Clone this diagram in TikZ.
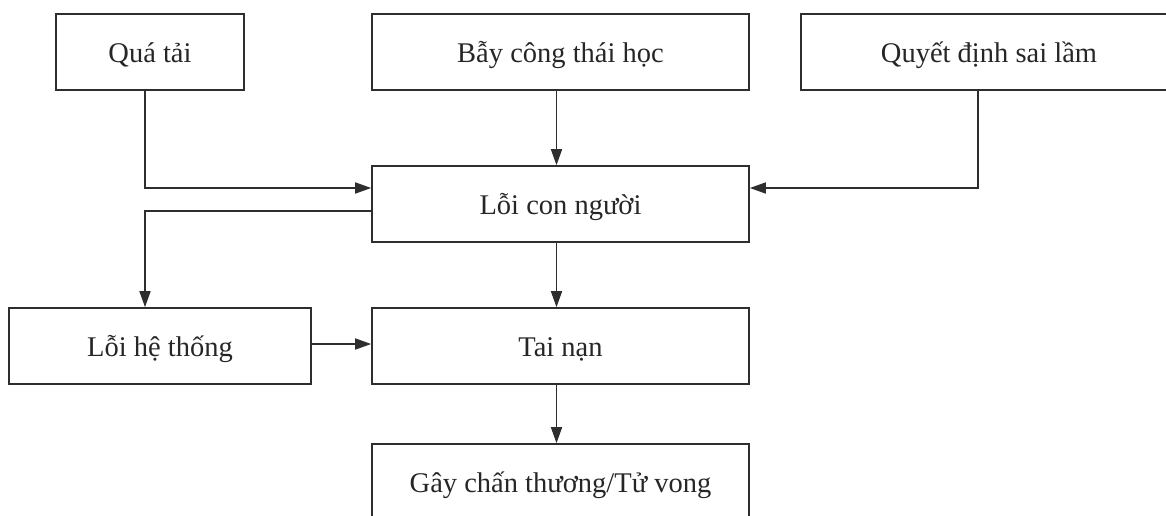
\documentclass[tikz,border=0pt]{standalone}
\usepackage{fontspec}
\setmainfont{Liberation Serif}
\usetikzlibrary{arrows.meta}
\definecolor{linegray}{HTML}{2E2E2E}
\begin{document}
\begin{tikzpicture}[x=1pt,y=-1pt,
  box/.style={draw=linegray,line width=1.6pt,minimum height=76pt,inner sep=0pt,
    text height=21pt,text depth=0pt,
    font=\fontsize{28.5}{32}\selectfont,text=black!85},
  arr/.style={draw=linegray,line width=1.6pt,-{Triangle[length=16pt,width=11pt]}}]
\useasboundingbox (0,0) rectangle (1166,515);
\clip (0,0) rectangle (1166,515);
\node[box,minimum width=188pt] (qt) at (150,52) {Quá tải};
\node[box,minimum width=377pt] (bay) at (560.5,52) {Bẫy công thái học};
\node[box,minimum width=376pt] (qd) at (989,52) {Quyết định sai lầm};
\node[box,minimum width=377pt] (loi) at (560.5,204) {Lỗi con người};
\node[box,minimum width=302pt] (ht) at (160,346) {Lỗi hệ thống};
\node[box,minimum width=377pt] (tn) at (560.5,346) {Tai nạn};
\node[box,minimum width=377pt] (gay) at (560.5,482) {Gây chấn thương/Tử vong};
\draw[arr] ([xshift=-5pt]qt.south) |- ([yshift=16pt]loi.west);
\draw[arr] ([xshift=-4pt]bay.south) -- ([xshift=-4pt]loi.north);
\draw[arr] ([xshift=-11pt]qd.south) |- ([yshift=16pt]loi.east);
\draw[arr] ([yshift=-7pt]loi.west) -| ([xshift=-15pt]ht.north);
\draw[arr] ([xshift=-4pt]loi.south) -- ([xshift=-4pt]tn.north);
\draw[arr] ([yshift=2pt]ht.east) -- ([yshift=2pt]tn.west);
\draw[arr] ([xshift=-4pt]tn.south) -- ([xshift=-4pt]gay.north);
\end{tikzpicture}
\end{document}
